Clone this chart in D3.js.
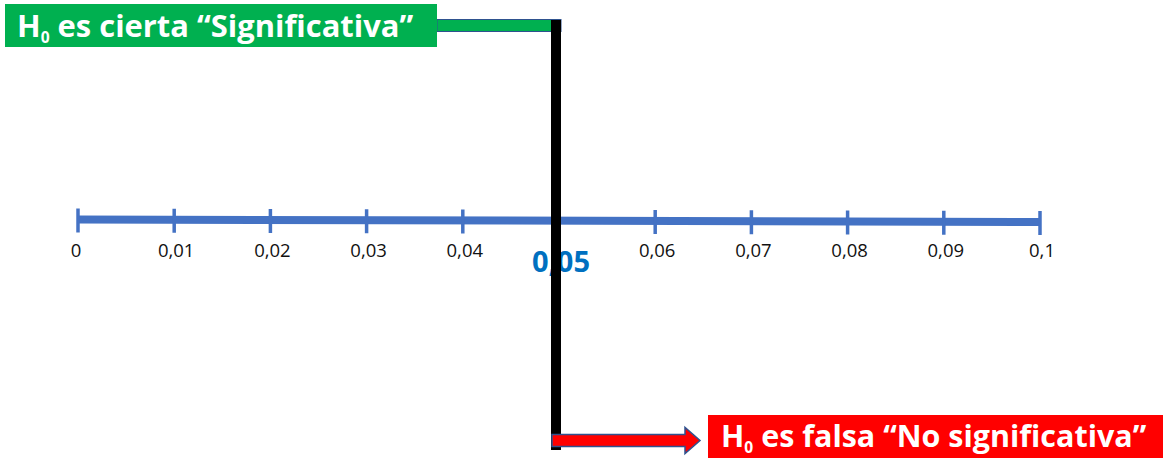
<!DOCTYPE html>
<html><head><meta charset="utf-8">
<script src="https://cdn.jsdelivr.net/npm/d3@7"></script>
<style>html,body{margin:0;padding:0;background:#fff;}svg{display:block;}</style>
</head><body>
<svg id="c" width="1163" height="458"></svg>
<script>
const tickValues = [0, 0.01, 0.02, 0.03, 0.04, 0.05, 0.06, 0.07, 0.08, 0.09, 0.1];
const tickLabels = ["0", "0,01", "0,02", "0,03", "0,04", "0,05", "0,06", "0,07", "0,08", "0,09", "0,1"];
const alpha = 0.05;
const topLabel = ["H", "0", " es cierta “Significativa”"];
const bottomLabel = ["H", "0", " es falsa “No significativa”"];

const svg = d3.select("#c");
const x = d3.scaleLinear().domain([0, 0.1]).range([78, 1040]);
const yAxis = d => 219.5 + (x(d) - 78) / 962 * 2.5;
const blue = "#4472C4";
const font = "'Open Sans', Lato, sans-serif";

// axis line
svg.append("line").attr("x1", x(0)).attr("x2", x(0.1))
  .attr("y1", yAxis(0)).attr("y2", yAxis(0.1))
  .attr("stroke", blue).attr("stroke-width", 8);
// ticks
svg.selectAll("line.tick").data(tickValues).join("line").attr("class", "tick")
  .attr("x1", d => x(d)).attr("x2", d => x(d))
  .attr("y1", d => yAxis(d) - 11).attr("y2", d => yAxis(d) + 13)
  .attr("stroke", blue).attr("stroke-width", 3.5);
// tick labels
svg.selectAll("text.tl").data(tickValues).join("text").attr("class", "tl")
  .attr("x", d => x(d) + (d === 0 ? -2 : 2))
  .attr("y", d => d === alpha ? 272 : 257)
  .attr("text-anchor", "middle")
  .attr("font-family", font)
  .attr("font-size", d => d === alpha ? 29 : 18.5)
  .attr("font-weight", d => d === alpha ? "bold" : "normal")
  .attr("fill", d => d === alpha ? "#0070C0" : "#111")
  .text((d, i) => tickLabels[i]);

const xa = x(alpha) - 3;

// green connector bar
svg.append("rect").attr("x", 437).attr("y", 19.5).attr("width", xa + 5 - 437).attr("height", 12)
  .attr("fill", "#00B050").attr("stroke", "#2F528F").attr("stroke-width", 1);

// black vertical line
svg.append("rect").attr("x", xa - 5).attr("y", 20).attr("width", 10).attr("height", 430)
  .attr("fill", "#000");

// red arrow
const ay = 440.5;
const arrow = d3.path();
arrow.moveTo(xa - 4, ay - 6);
arrow.lineTo(685, ay - 6);
arrow.lineTo(685, ay - 13);
arrow.lineTo(700, ay);
arrow.lineTo(685, ay + 13);
arrow.lineTo(685, ay + 6);
arrow.lineTo(xa - 4, ay + 6);
arrow.closePath();
svg.append("path").attr("d", arrow.toString()).attr("fill", "#FF0000")
  .attr("stroke", "#2F528F").attr("stroke-width", 1.5);

// green box
svg.append("rect").attr("x", 5).attr("y", 4).attr("width", 432).attr("height", 43).attr("fill", "#00B050");
function label(x0, y0, parts, size, w) {
  const t = svg.append("text").attr("x", x0).attr("y", y0)
    .attr("font-family", font).attr("font-weight", "bold").attr("font-size", size).attr("fill", "#fff")
    .style("font-variant-ligatures", "none");
  t.append("tspan").text(parts[0]);
  t.append("tspan").attr("font-size", size * 0.6).attr("dy", 6).text(parts[1]);
  t.append("tspan").attr("dy", -6).text(parts[2]);
  const bw = t.node().getComputedTextLength();
  if (bw > 0) t.attr("font-size", size * w / bw);
  return t;
}
label(17, 37, topLabel, 26, 398);

// red box
svg.append("rect").attr("x", 708).attr("y", 415).attr("width", 455).attr("height", 43).attr("fill", "#FF0000");
label(721, 447, bottomLabel, 26, 427);
</script>
</body></html>
